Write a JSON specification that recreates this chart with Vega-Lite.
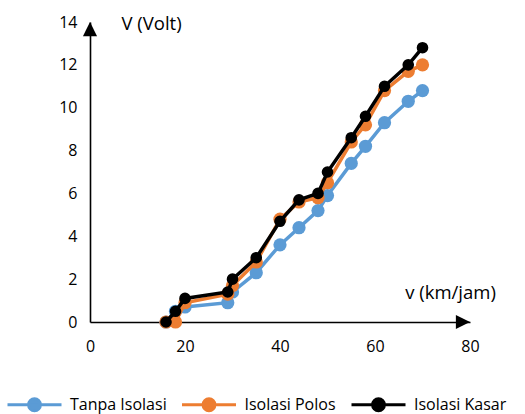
{
  "$schema": "https://vega.github.io/schema/vega-lite/v6.json",
  "width": 380,
  "height": 300,
  "autosize": "none",
  "padding": {"left": 90, "top": 22, "right": 55, "bottom": 92},
  "background": "white",
  "config": {
    "view": {"stroke": null},
    "font": "Open Sans",
    "axis": {"grid": false, "domainColor": "#000000", "domainWidth": 1.6, "ticks": false, "tickSize": 0, "labelFlush": false, "labelOverlap": false, "labelColor": "#000000", "labelFontSize": 16, "labelFont": "Open Sans", "titleFont": "Open Sans", "titleFontSize": 18.5, "titleFontWeight": "normal", "titleColor": "#000000"}
  },
  "datasets": {
    "main": [
      {"series": "Tanpa Isolasi", "v": 16, "V": 0},
      {"series": "Tanpa Isolasi", "v": 18, "V": 0.5},
      {"series": "Tanpa Isolasi", "v": 20, "V": 0.7},
      {"series": "Tanpa Isolasi", "v": 29, "V": 0.9},
      {"series": "Tanpa Isolasi", "v": 30, "V": 1.4},
      {"series": "Tanpa Isolasi", "v": 35, "V": 2.3},
      {"series": "Tanpa Isolasi", "v": 40, "V": 3.6},
      {"series": "Tanpa Isolasi", "v": 44, "V": 4.4},
      {"series": "Tanpa Isolasi", "v": 48, "V": 5.2},
      {"series": "Tanpa Isolasi", "v": 50, "V": 5.9},
      {"series": "Tanpa Isolasi", "v": 55, "V": 7.4},
      {"series": "Tanpa Isolasi", "v": 58, "V": 8.2},
      {"series": "Tanpa Isolasi", "v": 62, "V": 9.3},
      {"series": "Tanpa Isolasi", "v": 67, "V": 10.3},
      {"series": "Tanpa Isolasi", "v": 70, "V": 10.8},
      {"series": "Isolasi Polos", "v": 16, "V": 0},
      {"series": "Isolasi Polos", "v": 18, "V": 0},
      {"series": "Isolasi Polos", "v": 20, "V": 0.9},
      {"series": "Isolasi Polos", "v": 29, "V": 1.3},
      {"series": "Isolasi Polos", "v": 30, "V": 1.7},
      {"series": "Isolasi Polos", "v": 35, "V": 2.8},
      {"series": "Isolasi Polos", "v": 40, "V": 4.8},
      {"series": "Isolasi Polos", "v": 44, "V": 5.6},
      {"series": "Isolasi Polos", "v": 48, "V": 5.8},
      {"series": "Isolasi Polos", "v": 50, "V": 6.5},
      {"series": "Isolasi Polos", "v": 55, "V": 8.4},
      {"series": "Isolasi Polos", "v": 58, "V": 9.2},
      {"series": "Isolasi Polos", "v": 62, "V": 10.8},
      {"series": "Isolasi Polos", "v": 67, "V": 11.7},
      {"series": "Isolasi Polos", "v": 70, "V": 12.0},
      {"series": "Isolasi Kasar", "v": 16, "V": 0},
      {"series": "Isolasi Kasar", "v": 18, "V": 0.5},
      {"series": "Isolasi Kasar", "v": 20, "V": 1.1},
      {"series": "Isolasi Kasar", "v": 29, "V": 1.4},
      {"series": "Isolasi Kasar", "v": 30, "V": 2.0},
      {"series": "Isolasi Kasar", "v": 35, "V": 3.0},
      {"series": "Isolasi Kasar", "v": 40, "V": 4.7},
      {"series": "Isolasi Kasar", "v": 44, "V": 5.7},
      {"series": "Isolasi Kasar", "v": 48, "V": 6.0},
      {"series": "Isolasi Kasar", "v": 50, "V": 7.0},
      {"series": "Isolasi Kasar", "v": 55, "V": 8.6},
      {"series": "Isolasi Kasar", "v": 58, "V": 9.6},
      {"series": "Isolasi Kasar", "v": 62, "V": 11.0},
      {"series": "Isolasi Kasar", "v": 67, "V": 12.0},
      {"series": "Isolasi Kasar", "v": 70, "V": 12.8}
    ],
    "arrowY": [{"v": 0, "V": 14}],
    "arrowX": [{"v": 80, "V": 0}]
  },
  "encoding": {
    "x": {"field": "v", "type": "quantitative", "scale": {"domain": [0, 80], "nice": false}, "axis": {"values": [0, 20, 40, 60, 80], "labelPadding": 16, "labelBaseline": "top", "title": "v (km/jam)", "titleX": 360, "titleY": -30, "titleAlign": "center", "titleBaseline": "middle", "titleAnchor": null}},
    "y": {"field": "V", "type": "quantitative", "scale": {"domain": [0, 14], "nice": false}, "axis": {"values": [0, 2, 4, 6, 8, 10, 12, 14], "labelPadding": 13, "title": "V (Volt)", "titleAngle": 0, "titleX": 31, "titleY": 1, "titleAlign": "left", "titleBaseline": "middle", "titleAnchor": null}}
  },
  "layer": [
    {
      "data": {"name": "main"},
      "transform": [{"filter": "datum.series === 'Tanpa Isolasi'"}],
      "mark": {"type": "line", "strokeWidth": 3.5, "point": {"filled": true, "size": 175, "opacity": 1}},
      "encoding": {"color": {"field": "series", "type": "nominal", "scale": {"domain": ["Tanpa Isolasi", "Isolasi Polos", "Isolasi Kasar"], "range": ["#5B9BD5", "#ED7D31", "#000000"]},
        "legend": {"orient": "none", "direction": "horizontal", "legendX": -84, "legendY": 354, "title": null,
          "symbolType": "M-1,0L1,0M-0.22,0A0.22,0.22 0 1,1 0.22,0A0.22,0.22 0 1,1 -0.22,0Z",
          "symbolSize": 2916, "symbolStrokeWidth": 3, "symbolOpacity": 1, "labelFontSize": 16, "labelFont": "Open Sans", "labelColor": "#000000", "labelOffset": 7, "columnPadding": 8.5,
          "encode": {"symbols": {"update": {"fill": {"scale": "color", "field": "value"}, "stroke": {"scale": "color", "field": "value"}}}}}}}
    },
    {
      "data": {"name": "main"},
      "transform": [{"filter": "datum.series === 'Isolasi Polos'"}],
      "mark": {"type": "line", "strokeWidth": 3.5, "point": {"filled": true, "size": 175, "opacity": 1}},
      "encoding": {"color": {"field": "series", "type": "nominal"}}
    },
    {
      "data": {"name": "main"},
      "transform": [{"filter": "datum.series === 'Isolasi Kasar'"}],
      "mark": {"type": "line", "strokeWidth": 3.5, "point": {"filled": true, "size": 135, "opacity": 1}},
      "encoding": {"color": {"field": "series", "type": "nominal"}}
    },
    {
      "data": {"name": "arrowY"},
      "mark": {"type": "point", "shape": "M0,0L-1,2L1,2Z", "filled": true, "color": "#000000", "size": 200, "opacity": 1}
    },
    {
      "data": {"name": "arrowX"},
      "mark": {"type": "point", "shape": "M0,0L-2,-1L-2,1Z", "filled": true, "color": "#000000", "size": 200, "opacity": 1}
    }
  ]
}
